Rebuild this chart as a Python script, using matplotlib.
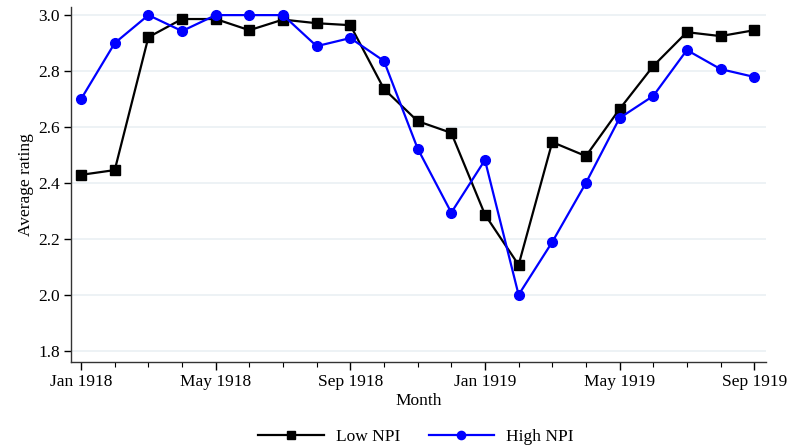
import matplotlib
matplotlib.use("Agg")
import matplotlib.pyplot as plt
import numpy as np

months = ["Jan 1918", "Feb 1918", "Mar 1918", "Apr 1918", "May 1918", "Jun 1918",
          "Jul 1918", "Aug 1918", "Sep 1918", "Oct 1918", "Nov 1918", "Dec 1918",
          "Jan 1919", "Feb 1919", "Mar 1919", "Apr 1919", "May 1919", "Jun 1919",
          "Jul 1919", "Aug 1919", "Sep 1919"]

low_npi = [2.429, 2.446, 2.921, 2.986, 2.986, 2.946, 2.984, 2.971, 2.964, 2.736,
           2.621, 2.579, 2.287, 2.107, 2.546, 2.496, 2.664, 2.818, 2.939, 2.925, 2.946]

high_npi = [2.700, 2.900, 3.000, 2.943, 3.000, 3.000, 3.000, 2.889, 2.918, 2.836,
            2.523, 2.294, 2.482, 2.000, 2.189, 2.400, 2.632, 2.711, 2.875, 2.807, 2.779]

major_labels = ["Jan 1918", "May 1918", "Sep 1918", "Jan 1919", "May 1919", "Sep 1919"]
y_ticks = [1.8, 2.0, 2.2, 2.4, 2.6, 2.8, 3.0]

plt.rcParams['font.family'] = ['Liberation Serif', 'DejaVu Serif']
FS = 12.5

fig = plt.figure(figsize=(7.94, 4.48), dpi=100)
ax = fig.add_axes([0.0894, 0.192, 0.8753, 0.793])

x = np.arange(len(months))
ax.plot(x, low_npi, color='black', marker='s', markersize=7, linewidth=1.6,
        label='Low NPI', zorder=3)
ax.plot(x, high_npi, color='#0000ff', marker='o', markersize=7, linewidth=1.6,
        label='High NPI', zorder=3)

ax.set_xlim(-0.3, 20.35)
ax.set_ylim(1.76, 3.03)

major_pos = [months.index(m) for m in major_labels]
ax.set_xticks(major_pos)
ax.set_xticklabels(major_labels, fontsize=FS)
ax.set_xticks(x, minor=True)
ax.set_yticks(y_ticks)
ax.set_yticklabels([f"{v:.1f}" for v in y_ticks], fontsize=FS)

ax.tick_params(axis='x', which='major', direction='out', length=6, width=1, pad=3)
ax.tick_params(axis='x', which='minor', direction='out', length=3.5, width=0.8)
ax.tick_params(axis='y', which='major', direction='out', length=5, width=1, pad=3)

ax.grid(axis='y', color='#eaf0f4', linewidth=1.2, zorder=0)
ax.set_axisbelow(True)

for side in ['top', 'right']:
    ax.spines[side].set_visible(False)
for side in ['left', 'bottom']:
    ax.spines[side].set_linewidth(1.0)
    ax.spines[side].set_color('#333333')

ax.set_xlabel('Month', fontsize=FS, labelpad=2)
ax.set_ylabel('Average rating', fontsize=FS, labelpad=3)

fig.legend(loc='lower center', bbox_to_anchor=(0.524, -0.028), ncol=2, frameon=False,
           fontsize=FS, handlelength=3.75, columnspacing=1.65, handletextpad=0.7,
           markerscale=0.85)

fig.savefig('out.png', dpi=100, facecolor='white')
